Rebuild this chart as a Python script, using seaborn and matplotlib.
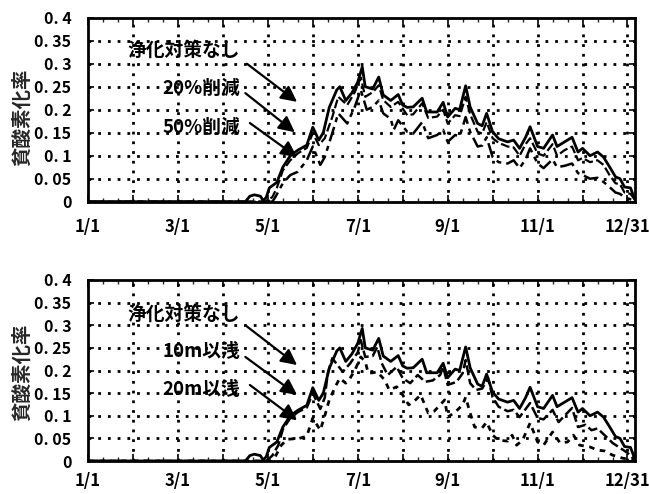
import numpy as np
import pandas as pd
import matplotlib
matplotlib.use("Agg")
import matplotlib.pyplot as plt
from matplotlib.ticker import MultipleLocator
import seaborn as sns

# ---- data (day of year 0..365, hypoxia ratio) ----
base_days = [0, 105, 108, 111, 115, 117, 119, 121, 126, 130, 135, 140, 146, 150, 154, 157, 161, 166,
             168, 172, 176, 180, 183, 185, 190, 194, 197, 202, 207, 210, 213, 217, 223, 226, 230, 233,
             237, 240, 245, 248, 252, 255, 260, 263, 266, 270, 274, 280, 284, 288, 292, 295, 300, 304,
             310, 313, 318, 323, 327, 330, 335, 340, 344, 348, 352, 355, 358, 362, 365]
base_vals = [0, 0, 0.012, 0.015, 0.012, 0.002, 0.01, 0.03, 0.042, 0.075, 0.10, 0.112, 0.123, 0.162,
             0.134, 0.15, 0.205, 0.243, 0.25, 0.22, 0.236, 0.26, 0.293, 0.25, 0.245, 0.271, 0.232, 0.22,
             0.233, 0.21, 0.205, 0.206, 0.225, 0.195, 0.195, 0.195, 0.216, 0.184, 0.203, 0.2, 0.252,
             0.206, 0.17, 0.165, 0.192, 0.152, 0.137, 0.13, 0.134, 0.116, 0.14, 0.163, 0.12, 0.116,
             0.145, 0.12, 0.13, 0.14, 0.108, 0.116, 0.10, 0.108, 0.097, 0.076, 0.054, 0.05, 0.032,
             0.03, 0.004]

cut20_days = [0, 118, 123, 126, 130, 135, 140, 146, 150, 154, 158, 163, 167, 173, 178, 182, 185, 190,
              194, 197, 202, 207, 213, 217, 223, 227, 233, 237, 240, 245, 248, 252, 255, 260, 263, 266,
              270, 274, 280, 284, 288, 292, 295, 300, 304, 310, 313, 318, 323, 327, 330, 335, 340, 344,
              348, 352, 355, 358, 362, 365]
cut20_vals = [0, 0, 0.01, 0.03, 0.068, 0.09, 0.105, 0.117, 0.149, 0.123, 0.138, 0.184, 0.228, 0.21,
              0.238, 0.27, 0.228, 0.238, 0.253, 0.221, 0.206, 0.217, 0.188, 0.19, 0.214, 0.182, 0.185,
              0.20, 0.17, 0.188, 0.186, 0.228, 0.19, 0.152, 0.148, 0.173, 0.138, 0.128, 0.12, 0.118,
              0.10, 0.125, 0.138, 0.105, 0.10, 0.125, 0.10, 0.112, 0.12, 0.09, 0.095, 0.086, 0.09,
              0.08, 0.058, 0.04, 0.038, 0.02, 0.017, 0.004]

cut50_days = [0, 123, 125, 130, 135, 140, 146, 150, 155, 158, 163, 167, 173, 178, 182, 186, 190, 194,
              197, 202, 204, 207, 213, 217, 223, 227, 233, 237, 240, 245, 248, 252, 255, 260, 263, 266,
              270, 274, 280, 284, 288, 292, 295, 300, 304, 310, 313, 318, 323, 327, 330, 335, 340, 344,
              348, 352, 355, 358, 362, 365]
cut50_vals = [0, 0, 0.01, 0.04, 0.058, 0.065, 0.09, 0.12, 0.08, 0.097, 0.149, 0.192, 0.17, 0.206,
              0.243, 0.20, 0.206, 0.22, 0.192, 0.18, 0.156, 0.177, 0.152, 0.148, 0.173, 0.138, 0.145,
              0.156, 0.13, 0.145, 0.142, 0.184, 0.152, 0.12, 0.122, 0.14, 0.097, 0.086, 0.083, 0.09,
              0.073, 0.092, 0.116, 0.083, 0.073, 0.092, 0.075, 0.078, 0.083, 0.062, 0.058, 0.05, 0.052,
              0.043, 0.032, 0.02, 0.017, 0.01, 0.005, 0.002]

shallow10_days = [0, 119, 123, 127, 130, 135, 140, 146, 150, 155, 158, 160, 163, 170, 175, 180, 182,
                  185, 190, 193, 196, 200, 206, 210, 215, 220, 225, 230, 235, 237, 240, 246, 250, 252,
                  255, 259, 263, 267, 270, 274, 280, 284, 288, 295, 300, 304, 310, 314, 318, 323, 327,
                  332, 336, 340, 346, 350, 355, 360, 363, 365]
shallow10_vals = [0, 0, 0.012, 0.035, 0.07, 0.095, 0.108, 0.118, 0.15, 0.115, 0.14, 0.194, 0.227,
                  0.197, 0.216, 0.24, 0.267, 0.23, 0.232, 0.252, 0.216, 0.19, 0.208, 0.183, 0.172,
                  0.19, 0.175, 0.178, 0.19, 0.208, 0.168, 0.175, 0.194, 0.223, 0.172, 0.157, 0.16,
                  0.183, 0.141, 0.12, 0.11, 0.113, 0.097, 0.128, 0.095, 0.092, 0.113, 0.086, 0.1,
                  0.117, 0.075, 0.08, 0.068, 0.072, 0.053, 0.04, 0.029, 0.018, 0.008, 0.003]

shallow20_days = [0, 121, 125, 129, 133, 141, 146, 150, 155, 158, 161, 165, 168, 172, 174, 178, 182,
                  185, 187, 190, 193, 198, 201, 206, 210, 214, 217, 222, 227, 231, 235, 238, 240, 245,
                  250, 252, 255, 258, 263, 266, 270, 274, 280, 283, 286, 290, 295, 300, 304, 310, 315,
                  320, 324, 328, 335, 340, 345, 350, 357, 365]
shallow20_vals = [0, 0, 0.01, 0.035, 0.048, 0.05, 0.055, 0.095, 0.068, 0.1, 0.135, 0.164, 0.183,
                  0.172, 0.178, 0.2, 0.23, 0.22, 0.194, 0.195, 0.197, 0.179, 0.157, 0.164, 0.146,
                  0.124, 0.13, 0.146, 0.106, 0.11, 0.124, 0.135, 0.097, 0.108, 0.124, 0.141, 0.106,
                  0.075, 0.073, 0.086, 0.057, 0.046, 0.044, 0.057, 0.035, 0.046, 0.084, 0.042, 0.035,
                  0.064, 0.04, 0.042, 0.057, 0.035, 0.031, 0.024, 0.022, 0.013, 0.006, 0.002]

tick_days = [0, 60, 120, 180, 240, 300, 360]
tick_text = ["1/1", "3/1", "5/1", "7/1", "9/1", "11/1", "12/31"]
y_ticks = [0, 0.05, 0.1, 0.15, 0.2, 0.25, 0.3, 0.35, 0.4]
y_text = ["0", "0. 05", "0. 1", "0. 15", "0. 2", "0. 25", "0. 3", "0. 35", "0. 4"]

panels = [
    {
        "series": [("浄化対策なし", base_days, base_vals),
                   ("20%削減", cut20_days, cut20_vals),
                   ("50%削減", cut50_days, cut50_vals)],
        "labels": ["浄化対策なし", "20%削減", "50%削減"],
    },
    {
        "series": [("浄化対策なし", base_days, base_vals),
                   ("10m以浅", shallow10_days, shallow10_vals),
                   ("20m以浅", shallow20_days, shallow20_vals)],
        "labels": ["浄化対策なし", "10m以浅", "20m以浅"],
    },
]

sns.set_theme(style="white")
plt.rcParams["font.family"] = ["Noto Sans CJK JP", "DejaVu Sans"]
plt.rcParams["font.weight"] = "bold"

fig = plt.figure(figsize=(6.49, 4.94), dpi=100)
axes = [fig.add_axes([0.1356, 0.5917, 0.8428, 0.3725]),
        fig.add_axes([0.1356, 0.0668, 0.8428, 0.3664])]

line_styles = [
    dict(linestyle="-", linewidth=2.0),
    dict(linestyle=(0, (4, 1.5)), linewidth=1.6),
    dict(linestyle=(0, (6, 2, 2, 2)), linewidth=1.8),
]
line_styles_bottom = [
    dict(linestyle="-", linewidth=2.0),
    dict(linestyle=(0, (4, 1.5)), linewidth=1.8),
    dict(linestyle=(0, (2, 2)), linewidth=2.0),
]

# annotation text anchors (right edge) and arrow tail/tip in data coords
text_y = [[0.330, 0.247, 0.162], [0.325, 0.241, 0.157]]
arrow_tail = [[(106, 0.300), (105, 0.236), (108, 0.171)],
              [(105, 0.300), (105, 0.230), (108, 0.168)]]
arrow_tip = [[(139.5, 0.217), (138, 0.151), (139.5, 0.097)],
             [(139.5, 0.212), (139.5, 0.146), (139.5, 0.090)]]
label_pad = [12, 8]

grid_days = list(range(0, 361, 30))

for i, (ax, panel) in enumerate(zip(axes, panels)):
    styles = line_styles if i == 0 else line_styles_bottom

    for (name, d, v), st in zip(panel["series"], styles):
        df = pd.DataFrame({"day": d, "ratio": v})
        sns.lineplot(data=df, x="day", y="ratio", ax=ax, color="black",
                     estimator=None, sort=False, zorder=3, **st)

    ax.set_xlim(0, 365)
    ax.set_ylim(0, 0.4)

    # dotted reference grid, drawn after the limits are fixed
    ax.vlines(grid_days[1:], 0, 0.4, colors="black", linestyles=(0, (1, 2.5)),
              linewidths=2.0, zorder=2)
    ax.hlines(y_ticks[1:-1], 0, 365, colors="black", linestyles=(0, (1, 2.5)),
              linewidths=2.0, zorder=2)

    ax.set_xticks(grid_days)
    ax.set_xticklabels([tick_text[tick_days.index(t)] if t in tick_days else ""
                        for t in grid_days], fontsize=12, fontweight="bold")
    ax.xaxis.set_minor_locator(MultipleLocator(10))
    ax.set_yticks(y_ticks)
    ax.set_yticklabels(y_text, fontsize=11.5, fontweight="bold")
    ax.tick_params(axis="x", which="major", direction="in", length=5, width=1.2,
                   top=True, bottom=True, pad=label_pad[i], colors="black")
    ax.tick_params(axis="x", which="minor", direction="in", length=3, width=1,
                   top=True, bottom=True)
    ax.tick_params(axis="y", which="major", direction="in", length=4, width=1.2,
                   left=True, right=True, pad=12, colors="black")
    for s in ax.spines.values():
        s.set_visible(True)
        s.set_color("black")
        s.set_linewidth(2.0)
        s.set_zorder(4)
    ax.set_xlabel("")
    ax.set_ylabel("")

    for lbl, ty, tail, tip in zip(panel["labels"], text_y[i], arrow_tail[i], arrow_tip[i]):
        ax.text(101.5, ty, lbl, ha="right", va="center", fontsize=13.5,
                fontweight="bold", color="black", zorder=5)
        ax.annotate("", xy=tip, xytext=tail, zorder=5,
                    arrowprops=dict(arrowstyle="-|>", color="black", lw=1.6,
                                    mutation_scale=24, shrinkA=0, shrinkB=0))

fig.text(22 / 649, 1 - 117 / 494, "貧酸素化率", rotation=90, ha="center", va="center",
         fontsize=14, fontweight="bold")
fig.text(22 / 649, 1 - 372 / 494, "貧酸素化率", rotation=90, ha="center", va="center",
         fontsize=14, fontweight="bold")

fig.savefig("out.png", dpi=100, facecolor="white")
